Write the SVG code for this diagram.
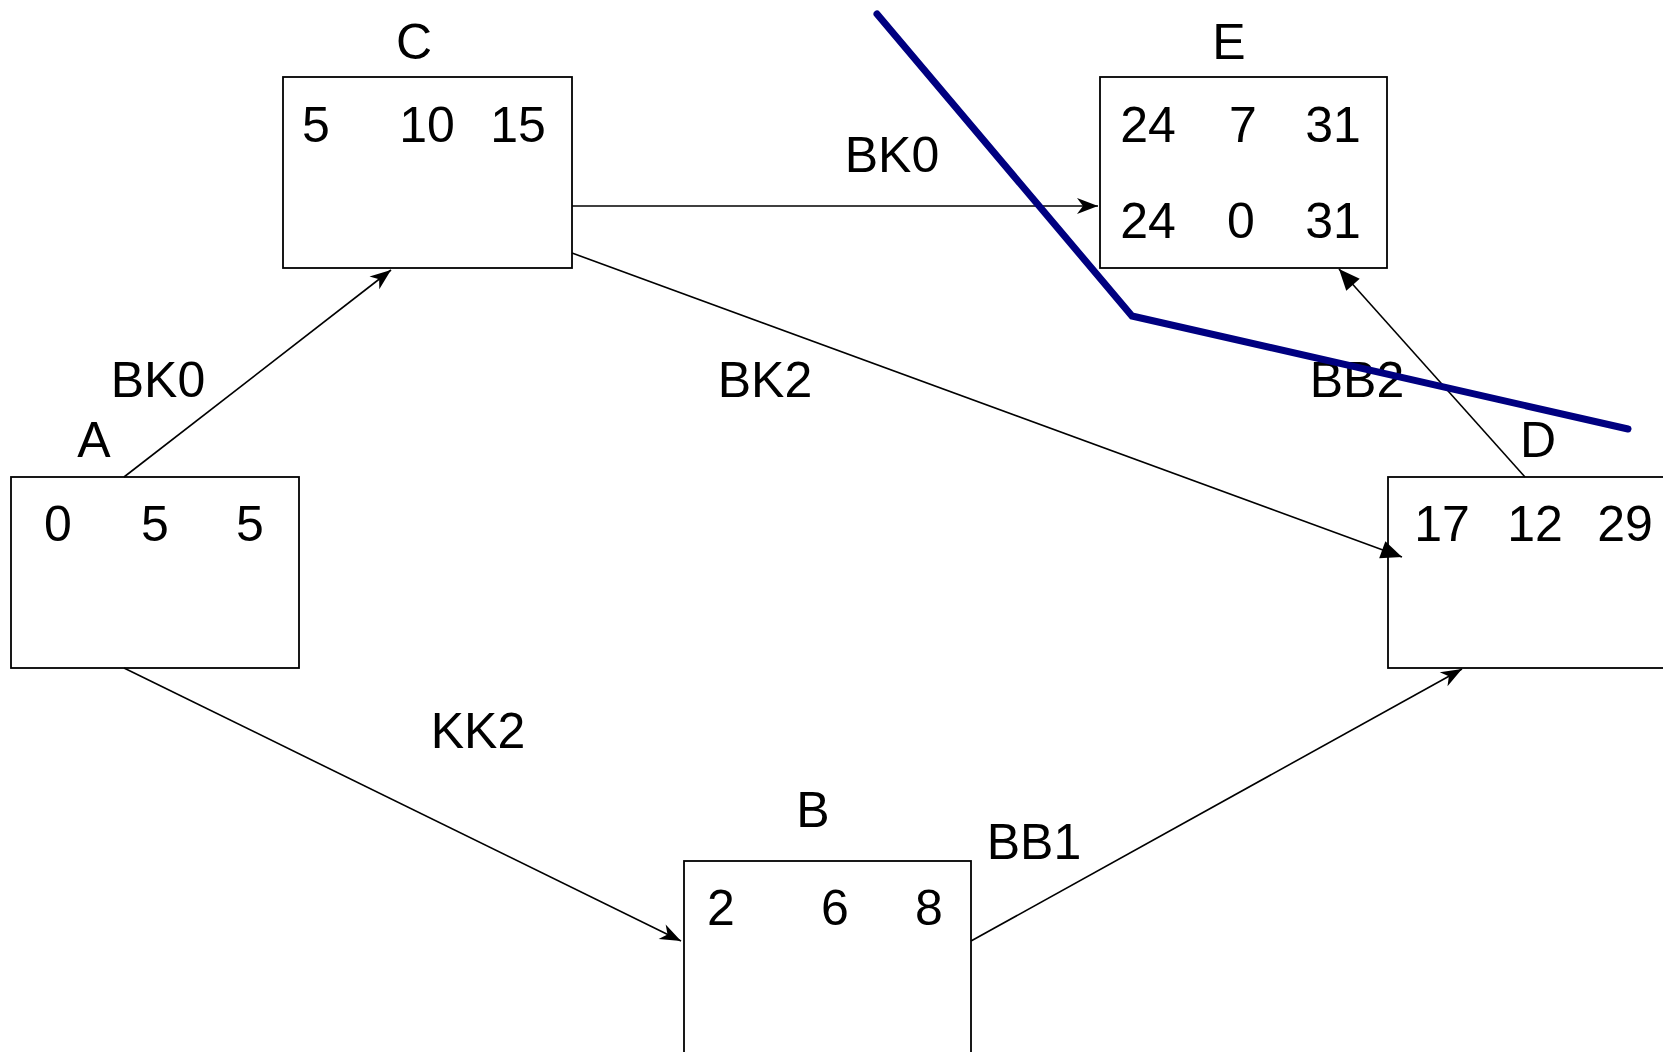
<svg xmlns="http://www.w3.org/2000/svg" width="1663" height="1052" viewBox="0 0 1663 1052">
  <defs>
    <style>
      .box { fill: #ffffff; stroke: #000000; stroke-width: 1.8; }
      .t { font-family: "Liberation Sans", Arial, sans-serif; font-size: 50px; fill: #000000; text-anchor: middle; }
      .edge { fill: none; stroke: #000000; stroke-width: 1.6; }
      .cut { fill: none; stroke: #000080; stroke-width: 7; stroke-linecap: round; stroke-linejoin: miter; }
    </style>
    <marker id="stealth" viewBox="-22 -9 24 18" refX="0" refY="0" markerWidth="24" markerHeight="18" markerUnits="userSpaceOnUse" orient="auto">
      <path d="M0,0 L-21,-8 L-15,0 L-21,8 Z" fill="#000000"/>
    </marker>
    <marker id="tri" viewBox="-22 -10 24 20" refX="0" refY="0" markerWidth="24" markerHeight="20" markerUnits="userSpaceOnUse" orient="auto">
      <path d="M0,0 L-21,-9 L-21,9 Z" fill="#000000"/>
    </marker>
  </defs>
  <rect width="1663" height="1052" fill="#ffffff"/>

  <g id="node-A">
    <rect class="box" x="11" y="477" width="288" height="191"/>
    <text class="t" x="94" y="457">A</text>
    <text class="t" x="58" y="541">0</text>
    <text class="t" x="155" y="541">5</text>
    <text class="t" x="250" y="541">5</text>
  </g>
  <g id="node-C">
    <rect class="box" x="283" y="77" width="289" height="191"/>
    <text class="t" x="414" y="59">C</text>
    <text class="t" x="316" y="142">5</text>
    <text class="t" x="427" y="142">10</text>
    <text class="t" x="518" y="142">15</text>
  </g>
  <g id="node-E">
    <rect class="box" x="1100" y="77" width="287" height="191"/>
    <text class="t" x="1229" y="59">E</text>
    <text class="t" x="1148" y="142">24</text>
    <text class="t" x="1243" y="142">7</text>
    <text class="t" x="1333" y="142">31</text>
    <text class="t" x="1148" y="238">24</text>
    <text class="t" x="1241" y="238">0</text>
    <text class="t" x="1333" y="238">31</text>
  </g>
  <g id="node-D">
    <rect class="box" x="1388" y="477" width="289" height="191"/>
    <text class="t" x="1538" y="457">D</text>
    <text class="t" x="1442" y="541">17</text>
    <text class="t" x="1535" y="541">12</text>
    <text class="t" x="1625" y="541">29</text>
  </g>
  <g id="node-B">
    <rect class="box" x="684" y="861" width="287" height="200"/>
    <text class="t" x="813" y="827">B</text>
    <text class="t" x="721" y="925">2</text>
    <text class="t" x="835" y="925">6</text>
    <text class="t" x="929" y="925">8</text>
  </g>

  <g id="connectors">
    <line class="edge" x1="124" y1="477" x2="391" y2="270" marker-end="url(#stealth)"/>
    <line class="edge" x1="572" y1="206" x2="1098" y2="206" marker-end="url(#stealth)"/>
    <line class="edge" x1="572" y1="253" x2="1402" y2="557" marker-end="url(#tri)"/>
    <line class="edge" x1="1525" y1="477" x2="1339" y2="269" marker-end="url(#tri)"/>
    <line class="edge" x1="124" y1="668" x2="681" y2="941" marker-end="url(#stealth)"/>
    <line class="edge" x1="971" y1="941" x2="1462" y2="669" marker-end="url(#stealth)"/>
    <text class="t" x="158" y="397">BK0</text>
    <text class="t" x="892" y="172">BK0</text>
    <text class="t" x="765" y="397">BK2</text>
    <text class="t" x="1357" y="397">BB2</text>
    <text class="t" x="478" y="748">KK2</text>
    <text class="t" x="1034" y="859">BB1</text>
  </g>

  <polyline class="cut" points="877,14 1132,316 1628,429"/>
</svg>
